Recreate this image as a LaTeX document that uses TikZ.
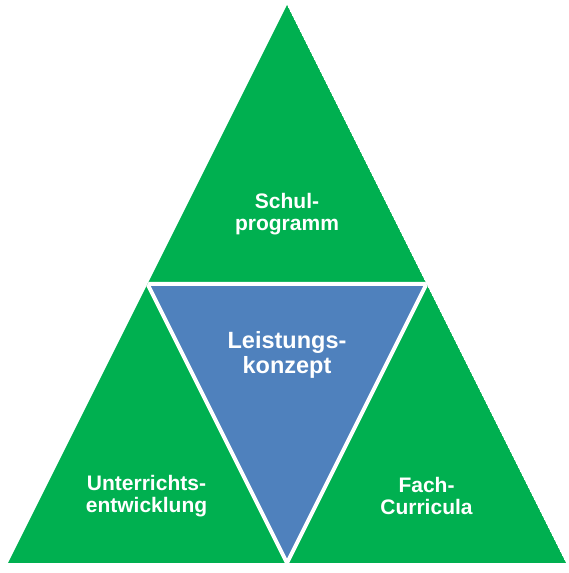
\documentclass[tikz,border=0pt]{standalone}
\usepackage{fontspec}
\setmainfont{Liberation Sans}
\definecolor{tgreen}{HTML}{00B050}
\definecolor{tblue}{HTML}{4F81BD}
\begin{document}
\begin{tikzpicture}[x=1pt,y=1pt,
  lbl/.style={text=white,font=\bfseries\fontsize{21}{21.5}\selectfont,align=center,inner sep=0pt},
  lblbig/.style={text=white,font=\bfseries\fontsize{23.5}{25}\selectfont,align=center,inner sep=0pt}]
\useasboundingbox (0,0) rectangle (569,573);
\coordinate (A) at (287,568);
\coordinate (BL) at (8,10);
\coordinate (BR) at (566,10);
\coordinate (ML) at (147.5,289);
\coordinate (MR) at (426.5,289);
\coordinate (MB) at (287,10);
\begin{scope}
\clip (A) -- (BL) -- (BR) -- cycle;
\fill[tgreen] (A) -- (BL) -- (BR) -- cycle;
\fill[tblue] (ML) -- (MR) -- (MB) -- cycle;
\draw[white,line width=4pt] (ML) -- (MR) -- (MB) -- cycle;
\end{scope}
\node[lbl] (s) at (287,359) {Schul-\\programm};
\node[lblbig] (l) at (287,218) {Leistungs-\\konzept};
\node[lbl] (u) at (146.5,77) {Unterrichts-\\entwicklung};
\node[lbl] (f) at (426.5,77) {Fach-\\Curricula};
\end{tikzpicture}
\end{document}
